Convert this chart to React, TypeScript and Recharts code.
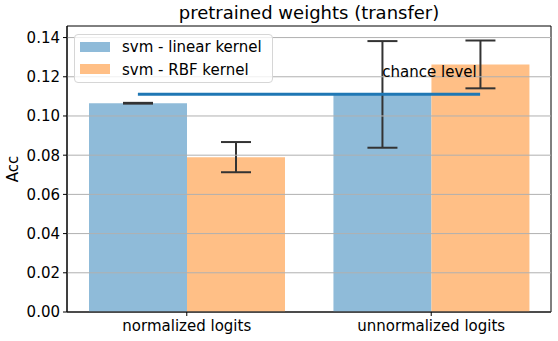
import {
  BarChart,
  Bar,
  XAxis,
  YAxis,
  ErrorBar,
  ReferenceLine,
  ReferenceArea,
  ReferenceDot,
} from 'recharts';

const categories = ['normalized logits', 'unnormalized logits'];
const linearAcc = [0.1065, 0.111];
const linearErr = [0.0002, 0.0272];
const rbfAcc = [0.079, 0.1263];
const rbfErr = [0.0077, 0.0122];
const yTicks = [0, 0.02, 0.04, 0.06, 0.08, 0.1, 0.12, 0.14];
const chanceLevel = 1 / 9;

const data = categories.map((name, i) => ({
  pos: i,
  name,
  linear: linearAcc[i],
  linearErr: linearErr[i],
  rbf: rbfAcc[i],
  rbfErr: rbfErr[i],
}));

const FONT = '"DejaVu Sans", sans-serif';
const BLUE = '#8fbbd9';
const ORANGE = '#ffbf86';

function ChanceLabel(props: any) {
  const { viewBox } = props;
  return (
    <text x={viewBox.x} y={viewBox.y} fontFamily={FONT} fontSize={15} fill="#000">
      chance level
    </text>
  );
}

function AccLabel() {
  return (
    <text x={18} y={169} transform="rotate(-90 18 169)" textAnchor="middle" fontFamily={FONT} fontSize={15} fill="#000">
      Acc
    </text>
  );
}

function LegendBox() {
  const rows = [
    { label: 'svm - linear kernel', color: BLUE, top: 41.7 },
    { label: 'svm - RBF kernel', color: ORANGE, top: 64 },
  ];
  return (
    <div
      style={{
        position: 'absolute',
        left: 74,
        top: 34,
        width: 199,
        height: 49,
        border: '1px solid #d6d6d6',
        borderRadius: 4,
        background: 'rgba(255,255,255,0.8)',
        boxSizing: 'border-box',
      }}
    >
      {rows.map((r) => (
        <div key={r.label}>
          <div style={{ position: 'absolute', left: 5, top: r.top - 35, width: 30, height: 10, background: r.color }} />
          <div
            style={{
              position: 'absolute',
              left: 47,
              top: r.top - 36.5,
              fontFamily: FONT,
              fontSize: 15,
              lineHeight: '15px',
              whiteSpace: 'nowrap',
              color: '#000',
            }}
          >
            {r.label}
          </div>
        </div>
      ))}
    </div>
  );
}

export default function App() {
  return (
    <div style={{ position: 'absolute', left: 0, top: 0, width: 558, height: 341, background: '#fff' }}>
      <div
        style={{
          position: 'absolute',
          left: 67,
          top: 4.3,
          width: 484,
          textAlign: 'center',
          fontFamily: FONT,
          fontSize: 18,
          lineHeight: '18px',
          color: '#000',
        }}
      >
        pretrained weights (transfer)
      </div>
      <BarChart
        width={558}
        height={341}
        data={data}
        margin={{ top: 26, right: 7, bottom: 0, left: 15 }}
        barCategoryGap="10%"
        barGap={0}
      >
        <XAxis
          dataKey="pos"
          type="number"
          domain={[-0.49, 1.49]}
          allowDataOverflow
          ticks={[0, 1]}
          tickFormatter={(v: number) => categories[v]}
          height={29}
          tickSize={4}
          tickMargin={4}
          stroke="#000"
          tick={{ fill: '#000', fontSize: 15, fontFamily: FONT }}
        />
        <YAxis
          domain={[0, 0.1459]}
          allowDataOverflow
          ticks={yTicks}
          tickFormatter={(v: number) => v.toFixed(2)}
          width={52}
          tickSize={4}
          tickMargin={3}
          stroke="#000"
          tick={{ fill: '#000', fontSize: 15, fontFamily: FONT }}
          label={{ content: AccLabel }}
        />
        <Bar dataKey="linear" fill={BLUE} isAnimationActive={false}>
          <ErrorBar dataKey="linearErr" width={15} strokeWidth={2} stroke="#333" direction="y" />
        </Bar>
        <Bar dataKey="rbf" fill={ORANGE} isAnimationActive={false}>
          <ErrorBar dataKey="rbfErr" width={15} strokeWidth={2} stroke="#333" direction="y" />
        </Bar>
        {yTicks.map((t) => (
          <ReferenceLine key={t} y={t} stroke="#b0b0b0" strokeWidth={1} />
        ))}
        <ReferenceLine
          segment={[
            { x: -0.2, y: chanceLevel },
            { x: 1.2, y: chanceLevel },
          ]}
          stroke="#1f77b4"
          strokeWidth={3}
          ifOverflow="visible"
        />
        <ReferenceDot x={0.8} y={0.12} r={0} fill="none" stroke="none" label={{ content: ChanceLabel }} />
        <ReferenceArea x1={-0.49} x2={1.49} y1={0} y2={0.1459} fill="none" stroke="#000" strokeWidth={1} fillOpacity={0} />
      </BarChart>
      <LegendBox />
    </div>
  );
}
